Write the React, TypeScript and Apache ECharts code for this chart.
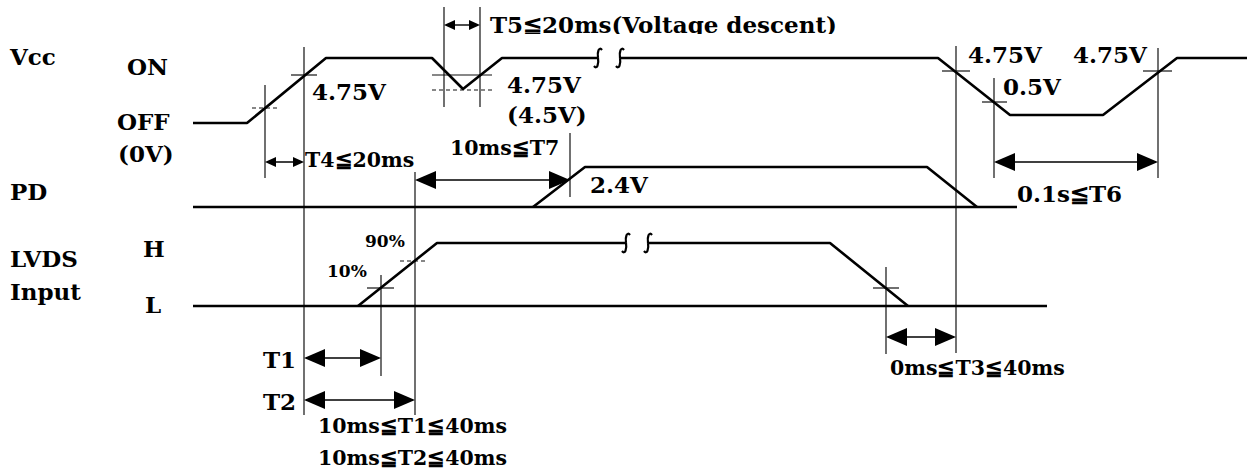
import React, { useEffect, useRef } from "react";
import * as echarts from "echarts";

const W = 1259;
const H = 475;

// ---- waveforms (x, y in drawing units; y grows downwards) ----
const vccBeforeBreak = [[193, 123], [247, 123], [326, 58], [432, 58], [463, 89], [502, 58], [598, 58]];
const vccAfterBreak = [[620, 58], [938, 58], [1010, 115], [1103, 115], [1177, 58], [1247, 58]];
const pdLow = [[193, 207], [1017, 207]];
const pdPulse = [[533, 207], [585, 167], [927, 167], [977, 207]];
const lvdsLow = [[193, 306], [1047, 306]];
const lvdsPulseBeforeBreak = [[358, 306], [437, 243], [626, 243]];
const lvdsPulseAfterBreak = [[648, 243], [830, 243], [908, 306]];
const waveforms = [vccBeforeBreak, vccAfterBreak, pdLow, pdPulse, lvdsLow, lvdsPulseBeforeBreak, lvdsPulseAfterBreak];

// break symbols (centre points)
const breakMarks = [[598, 58], [620, 58], [626, 243], [648, 243]];

// thin reference lines [x1, y1, x2, y2]
const refLines = [
  [265, 85, 265, 178],
  [304, 47, 304, 415],
  [444, 7, 444, 107],
  [480, 7, 480, 107],
  [415, 172, 415, 415],
  [570, 133, 570, 197],
  [381, 275, 381, 376],
  [886, 267, 886, 354],
  [956, 46, 956, 353],
  [994, 78, 994, 178],
  [1158, 48, 1158, 178],
  [291, 75, 317, 75],
  [432, 75, 492, 75],
  [942, 71, 970, 71],
  [982, 102, 1007, 102],
  [1143, 71, 1172, 71],
  [367, 288, 394, 288],
  [873, 288, 899, 288],
];
const dashedRefLines = [
  [252, 108, 277, 108],
  [432, 90, 492, 90],
  [400, 261, 425, 261],
];

// timing arrows [xFrom, xTo, y, big(1)/small(0)]
const arrows = [
  [265, 304, 162, 0],
  [444, 480, 25, 0],
  [415, 570, 180, 1],
  [994, 1158, 162, 1],
  [304, 381, 358, 1],
  [304, 415, 400, 1],
  [886, 956, 337, 1],
];

// labels: text, left x, baseline y, size class
const labelTexts = [
  "Vcc", "ON", "OFF", "(0V)", "PD", "LVDS", "Input", "H", "L",
  "4.75V", "4.75V", "(4.5V)", "2.4V", "T5≦20ms(Voltage descent)",
  "4.75V", "4.75V", "0.5V", "0.1s≦T6", "T1", "T2",
  "T4≦20ms", "10ms≦T7", "10ms≦T1≦40ms", "10ms≦T2≦40ms", "0ms≦T3≦40ms",
  "90%", "10%",
];
const labelX = [10, 127, 117, 118, 10, 10, 10, 143, 145, 312, 507, 507, 590, 490, 968, 1073, 1003, 1017, 263, 263, 305, 450, 318, 318, 890, 365, 327];
const labelBaseline = [65, 75, 130, 162, 200, 267, 300, 257, 313, 100, 93, 123, 193, 33, 63, 63, 95, 202, 368, 410, 167, 155, 433, 465, 375, 247, 277];
const labelClass = ["L", "L", "L", "L", "L", "L", "L", "L", "L", "L", "L", "L", "L", "L", "L", "L", "L", "L", "L", "L", "M", "M", "M", "M", "M", "S", "S"];
const classSize: Record<string, number> = { L: 23, M: 20.5, S: 17 };

const FONT_FAMILY = "'DejaVu Serif', 'Liberation Serif', serif";

export default function App() {
  const ref = useRef<HTMLDivElement>(null);

  useEffect(() => {
    if (!ref.current) return;
    const chart = echarts.init(ref.current, null, { renderer: "svg" });

    const waveSeries = waveforms.map((pts) => ({
      type: "line",
      data: pts,
      symbol: "none",
      silent: true,
      lineStyle: { color: "#000", width: 2.6 },
      z: 3,
    }));

    const option: any = {
      animation: false,
      backgroundColor: "#fff",
      grid: { left: 0, right: 0, top: 0, bottom: 0 },
      xAxis: { type: "value", min: 0, max: W, show: false },
      yAxis: { type: "value", min: 0, max: H, inverse: true, show: false },
      series: [
        ...waveSeries,
        {
          type: "custom",
          silent: true,
          clip: false,
          z: 2,
          data: refLines,
          renderItem: (params: any, api: any) => {
            const a = api.coord([api.value(0), api.value(1)]);
            const b = api.coord([api.value(2), api.value(3)]);
            return {
              type: "line",
              shape: { x1: a[0], y1: a[1], x2: b[0], y2: b[1] },
              style: { stroke: "#111", lineWidth: 1.2 },
            };
          },
        },
        {
          type: "custom",
          silent: true,
          clip: false,
          z: 2,
          data: dashedRefLines,
          renderItem: (params: any, api: any) => {
            const a = api.coord([api.value(0), api.value(1)]);
            const b = api.coord([api.value(2), api.value(3)]);
            return {
              type: "line",
              shape: { x1: a[0], y1: a[1], x2: b[0], y2: b[1] },
              style: { stroke: "#111", lineWidth: 1.2, lineDash: [4, 3] },
            };
          },
        },
        {
          type: "custom",
          silent: true,
          clip: false,
          z: 4,
          data: arrows,
          renderItem: (params: any, api: any) => {
            const big = api.value(3) === 1;
            const len = big ? 21 : 11;
            const hh = big ? 9 : 5;
            const a = api.coord([api.value(0), api.value(2)]);
            const b = api.coord([api.value(1), api.value(2)]);
            return {
              type: "group",
              children: [
                {
                  type: "line",
                  shape: { x1: a[0] + 2, y1: a[1], x2: b[0] - 2, y2: b[1] },
                  style: { stroke: "#000", lineWidth: 1.4 },
                },
                {
                  type: "polygon",
                  shape: { points: [[a[0], a[1]], [a[0] + len, a[1] - hh], [a[0] + len, a[1] + hh]] },
                  style: { fill: "#000" },
                },
                {
                  type: "polygon",
                  shape: { points: [[b[0], b[1]], [b[0] - len, b[1] - hh], [b[0] - len, b[1] + hh]] },
                  style: { fill: "#000" },
                },
              ],
            };
          },
        },
        {
          type: "custom",
          silent: true,
          clip: false,
          z: 4,
          data: breakMarks,
          renderItem: (params: any, api: any) => {
            const c = api.coord([api.value(0), api.value(1)]);
            const cx = c[0];
            const cy = c[1];
            const st = { stroke: "#000", lineWidth: 2.2, fill: "none" };
            return {
              type: "group",
              children: [
                {
                  type: "bezierCurve",
                  shape: { x1: cx + 4, y1: cy - 8, cpx1: cx + 1, cpy1: cy - 12, cpx2: cx - 1, cpy2: cy - 6, x2: cx, y2: cy },
                  style: st,
                },
                {
                  type: "bezierCurve",
                  shape: { x1: cx, y1: cy, cpx1: cx + 1, cpy1: cy + 6, cpx2: cx - 1, cpy2: cy + 12, x2: cx - 4, y2: cy + 8 },
                  style: st,
                },
              ],
            };
          },
        },
        {
          type: "custom",
          silent: true,
          clip: false,
          z: 5,
          data: labelX.map((x, i) => [x, labelBaseline[i]]),
          renderItem: (params: any, api: any) => {
            const i = params.dataIndex;
            const size = classSize[labelClass[i]];
            const p = api.coord([api.value(0), api.value(1)]);
            return {
              type: "text",
              x: p[0],
              y: p[1] - size * 0.35,
              style: {
                text: labelTexts[i],
                fill: "#000",
                fontFamily: FONT_FAMILY,
                fontSize: size,
                fontWeight: "bold",
                align: "left",
                verticalAlign: "middle",
              },
            };
          },
        },
      ],
      graphic: [
        {
          type: "rect",
          z: 100,
          shape: { x: 486, y: 34, width: 360, height: 10 },
          style: { fill: "#fff" },
        },
      ],
    };

    chart.setOption(option);
    return () => chart.dispose();
  }, []);

  return (
    <div
      ref={ref}
      style={{ position: "fixed", left: 0, top: 0, width: W, height: H, background: "#fff" }}
    />
  );
}
